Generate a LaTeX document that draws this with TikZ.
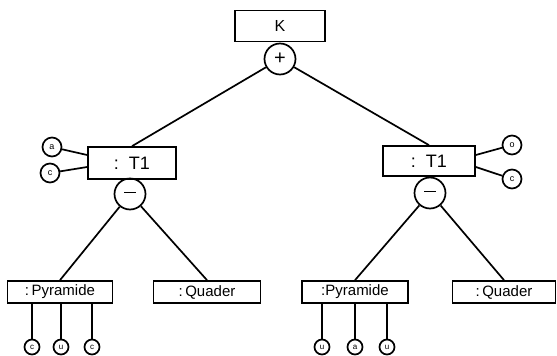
\documentclass[tikz,border=0pt]{standalone}
\usepackage{fontspec}
\setmainfont{Liberation Sans}
\begin{document}
\begin{tikzpicture}[x=1pt,y=-1pt,line width=1.7pt,
  box/.style={draw,rectangle,inner sep=0pt,font=\fontsize{15}{15}\selectfont},
  op/.style={draw,circle,minimum size=31pt,inner sep=0pt,font=\fontsize{20}{20}\selectfont},
  port/.style={draw,circle,minimum size=19pt,inner sep=0pt,font=\fontsize{9}{9}\selectfont},
  sport/.style={draw,circle,minimum size=15pt,inner sep=0pt,font=\fontsize{8}{8}\selectfont}]
\useasboundingbox (0,0) rectangle (557,356);
% top
\node[box,minimum width=90pt,minimum height=31pt,font=\fontsize{16}{16}\selectfont] (K) at (280,26) {K};
\node[op] (plus) at (280,59) {+};
% T1 boxes
\node[box,minimum width=88pt,minimum height=32pt,font=\fontsize{18}{18}\selectfont] (T1l) at (132,163) {:\ \ T1};
\node[box,minimum width=92pt,minimum height=30pt,font=\fontsize{18}{18}\selectfont] (T1r) at (429,161) {:\ \ T1};
\node[op] (minl) at (130,194) {\rule[0.3ex]{12pt}{1.6pt}};
\node[op] (minr) at (430,193) {\rule[0.3ex]{12pt}{1.6pt}};
% ports T1
\node[port] (pla) at (52,147) {a};
\node[port] (plb) at (50,173) {c};
\node[port] (pra) at (512,145) {o};
\node[port] (prb) at (512,179) {c};
% leaf boxes
\node[box,minimum width=105pt,minimum height=22pt] (pyl) at (60,292) {:\,Pyramide};
\node[box,minimum width=107pt,minimum height=22pt] (qul) at (207,292) {:\,Quader};
\node[box,minimum width=106pt,minimum height=22pt] (pyr) at (355,292) {:Pyramide};
\node[box,minimum width=103pt,minimum height=22pt] (qur) at (504,292) {:\,Quader};
% bottom ports
\node[sport] (l1) at (32,347) {c};
\node[sport] (l2) at (61,347) {u};
\node[sport] (l3) at (92,347) {c};
\node[sport] (r1) at (322,347) {u};
\node[sport] (r2) at (355,347) {a};
\node[sport] (r3) at (387,347) {u};
% connectors
\draw (plus) -- (T1l.north);
\draw (plus) -- (T1r.north);
\draw (minl) -- (pyl.north);
\draw (minl) -- (qul.north);
\draw (minr) -- (pyr.north);
\draw (minr) -- (qur.north);
\draw (pla) -- ([yshift=8pt]T1l.west);
\draw (plb) -- ([yshift=-4pt]T1l.west);
\draw (pra) -- ([yshift=6pt]T1r.east);
\draw (prb) -- ([yshift=-6pt]T1r.east);
\draw (l1) -- (l1|-pyl.south);
\draw (l2) -- (l2|-pyl.south);
\draw (l3) -- (l3|-pyl.south);
\draw (r1) -- (r1|-pyr.south);
\draw (r2) -- (r2|-pyr.south);
\draw (r3) -- (r3|-pyr.south);
\end{tikzpicture}
\end{document}
